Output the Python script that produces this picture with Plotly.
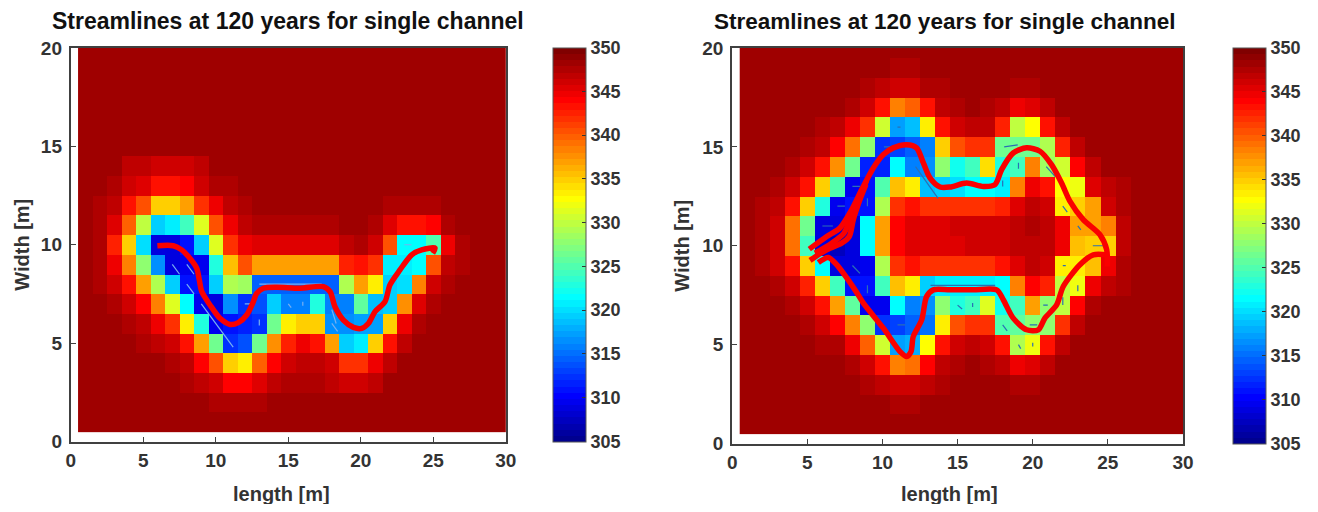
import plotly.graph_objects as go

# the page sets the figure 8 px in from the window's corner
OFF = 8
W, H = 1318 - 2 * OFF, 512 - 2 * OFF
B = 348.6
READ_SHIFT = 0.35  # colour readings sit half a colormap step above the bin
TITLE = "Streamlines at 120 years for single channel"
XTICKS = [0, 5, 10, 15, 20, 25, 30]
YTICKS = [0, 5, 10, 15, 20]
CTICKS = [305, 310, 315, 320, 325, 330, 335, 340, 345, 350]

# each row: y -> (first column, values from that column on); all other cells = B
left_rows = {
 14: (4, [347.5,347.5,346.5,346.5,346.5,347.5]),
 13: (3, [347.8,346.8,345.8,343.5,343.5,344.3,346.5,347.8,347.8]),
 12: (2, [348,347.3,344,341,335,335,337,342.5,345,347.5,347.8]+[B]*9+[348,348,348,348]),
 11: (2, [348,345.5,340,330,320,321,325,332,341,345,347.5,348,348,348,348,348,348,348.5,B,348,346,343.5,343.5,344.3,347.6]),
 10: (2, [347.6,343,335,320.5,309,309,311,320,332,342,345.3,345.5,345.5,345.5,345.5,345.5,346,347.5,348,346.8,341,322,322,325.5,345,347.8]),
 9: (2, [347.6,345.3,339,328.5,317,309,310,310,323,336,341,337.5,337.5,337.5,337.5,337.5,337.5,343,344,342.5,321,321,322,341,347.5,348]),
 8: (2, [348,346.8,343.5,337.5,329.5,320,311,311,319.5,329.5,329,315,315,315,315,315,315,329.5,337,334,320,320.5,339,346.5,348]),
 7: (3, [348,346.8,344.3,339,332,322,310,309,317,313,314,320,316,316,323,316,316.5,326,319,320,338,345.8,347.8]),
 6: (4, [348,347.5,345,342,334,323.5,310,311,312,312.5,327,334,335.5,335,317,317,317.5,318,335,345,347.6]),
 5: (5, [348,347.5,346.5,343.5,337,327,313,314,327,338,343,345,344,337,320,321,335.5,344,347]),
 4: (7, [348,347,344.3,341,335,333.5,340,344.3,346.5,347,347.5,346.5,342.5,342.5,345.3,347.5]),
 3: (8, [347.8,347.3,346.3,344.2,344.2,345.8,347.3,347.8,348,348,347.5,346.8,346.8,347.3]),
 2: (10, [347.9,347.9,347.9,347.9]),
}
right_rows = {
 19: (11, [348.2,348.2]),
 18: (9, [347.7,347.3,346.3,346.3,347.6,348,B,B,B,B,347.9,347.9]),
 17: (8, [348,346.5,344,338.5,340,344,347.3,347.8,348.4,347.8,347.2,345.4,346,347.4]),
 16: (6, [347.8,347.4,345.3,342,331,318,319,333.5,343.5,346.5,347.2,347.2,343,330,333,344,347.3]),
 15: (5, [348,347.4,344.3,339.5,328,312.5,313.5,315,316,335,341,342.5,342.5,327,326.5,327,329.5,343,347.5]),
 14: (4, [348,346.8,343.5,338,327,312,312,322,316.5,317,328.5,322.5,325,334.5,323.5,325,338.5,329,331,344.3,347.5]),
 13: (3, [347.7,346.5,343.5,335.5,325.5,310,311,325.5,336,334,319,320,320.5,322,322,321,338.5,345,343.5,333,332.5,345.8,347.5,348]),
 12: (2, [348,347.5,343.5,335.5,323,310,311,311.5,329.5,342,344,342,342,342,342,342,343,346,347,346.2,334,335,337,346.5,347.8]),
 11: (2, [348,346.2,339.5,326.5,309,309,309.5,322,337,344.5,346,346,346,346.4,346.4,346.4,346.4,347,347.6,347.4,345.2,337.5,337.5,338.5,347.2]),
 10: (2, [348,346.2,339.5,325,309.5,308,309.5,322,337,344.5,346,346,346,346,346.6,346.6,346.6,347.2,347.2,347.2,345.2,336,335.5,335.5,347.2]),
 9: (2, [348,346.8,343.5,335,322,309.5,309,310,329.5,342,344,342,342,342,342,342.5,343.5,346,347.4,346.5,333.5,334,336,345,347.7]),
 8: (3, [347.6,346.5,343,335,325,311,311,325,336,333.5,320,321.5,321.5,321.5,321.5,322,338.5,344.3,343,330,332.5,345,347.5,348]),
 7: (4, [348,346.8,343.5,337.5,326,310,310,322,316.5,317,328.5,323,325,332,322.5,325,337.5,328.5,330.5,344.3,347.6]),
 6: (5, [347.8,346.8,344.3,338.5,328,312.5,313.5,315,315.5,334,341,342.5,342.5,325.5,326,328,328.5,342.5,347.2]),
 5: (6, [348,347.6,345.2,340,331,318,318.5,333,343.5,346.8,347.3,346.8,343.5,329.5,332.5,343.5,347.3]),
 4: (8, [348,346.8,343.5,338.5,339.5,344.3,347.5,348,348.3,347.8,347.3,345.4,346,347.5]),
 3: (9, [347.7,347.5,346.7,346.7,347.5,347.7,B,B,B,B,348.1,348.1]),
 2: (11, [348.2,348.2]),
}

# streamlines, data units (length, width)
left_line_x = [5.97,7.07,7.65,8.11,8.68,8.86,9.03,9.60,10.29,10.98,11.55,12.13,12.54,12.82,13.28,14.20,15.81,17.42,17.88,18.22,18.80,19.49,20.06,20.52,20.98,21.67,22.01,22.70,23.51,24.20,25.12,24.96]
left_line_y = [9.95,9.95,9.74,9.40,8.81,8.22,7.62,6.94,6.26,5.95,6.04,6.43,7.02,7.53,7.79,7.84,7.79,7.87,7.62,6.85,6.17,5.80,5.75,6.00,6.60,7.11,7.96,8.72,9.49,9.74,9.83,9.57]

upper_x = [5.13,6.29,7.17,7.95,8.62,9.39,10.06,10.72,11.61,12.27,12.72,13.16,13.83,14.49,15.60,16.71,17.49,17.93,18.70,19.59,20.48,21.25,21.92,22.48,23.36,24.47,24.92,24.96]
upper_y = [9.83,10.47,10.90,11.82,12.84,13.93,14.61,14.95,15.11,14.95,14.19,13.43,12.97,12.97,13.17,13.00,13.09,13.85,14.69,14.95,14.78,14.10,13.17,12.24,11.32,10.56,9.80,8.95]
fan2_x = [5.51,6.62,7.44,7.84,8.50,8.95]
fan2_y = [9.63,10.13,10.64,11.32,12.50,13.30]
fan3_x = [5.18,6.29,7.28,7.79,8.06,8.50,8.90]
fan3_y = [9.26,9.80,10.13,10.47,11.32,12.33,13.10]
lower_x = [5.73,6.39,6.95,8.17,8.73,10.06,11.17,11.61,11.90,12.05,12.61,12.94,13.38,14.49,16.04,17.60,18.04,18.70,19.59,20.37,20.81,21.59,22.03,23.14,24.03,24.92]
lower_y = [9.15,9.41,9.04,7.77,7.10,5.83,4.65,4.40,4.65,5.41,6.25,7.44,7.77,7.77,7.77,7.77,7.27,6.34,5.75,5.75,6.34,7.01,7.94,9.04,9.54,9.54]

# small quiver segments
left_q_x = [7,7.5,None,8,8.5,None,8,8.5,None,9,11.2,None,13,17.3,None,12,12.5,None,15,15.2,None,16,16,None,18,18.3,None,18,18.4,None,23,23.5,None,13,13]
left_q_y = [9,8.5,None,9,8.5,None,8,7.5,None,7,4.8,None,8,8,None,7,7,None,7,6.8,None,7.1,6.9,None,6.7,6,None,6,5.6,None,10,10,None,6.2,5.9]
right_q_x = [20.9,21.5,None,22,22.3,None,23,23.2,None,24,24.7,None,22,22.2,None,23,23,None,19.05,19.05,None,18,18,None,18.1,19,None,19.8,20.3,None,18,18.3,None,19.05,19.2,None,20,20,None,21,20.7,None,22,22,None,15,15.3,None,16,16,None,13.2,17.5,None,11,11.5,None,8,8.5,None,9,9,None,12.2,13.7,None,6,6.7,None,7,7.5,None,8,8.5,None,9,9,None,10.1,10.5,None,11,11.2]
right_q_y = [14,13.5,None,12,11.7,None,11,10.8,None,10,10,None,9,9,None,8,7.7,None,14.2,13.9,None,13.3,13,None,15,15.1,None,6,6,None,6,5.7,None,5,4.8,None,5.1,4.9,None,7,7,None,7.4,7,None,7,6.8,None,7.1,6.9,None,8,8,None,6,6,None,9,8.6,None,8,7.6,None,14,12.4,None,11,11,None,12,12,None,13,13,None,12.4,12,None,15,15,None,16,16]


def grid(rows):
    z = [[B - READ_SHIFT] * 30 for _ in range(20)]
    for y, (c, vals) in rows.items():
        for i, v in enumerate(vals):
            if c - 1 + i < 30:
                z[y - 1][c - 1 + i] = v - READ_SHIFT
    return z


def jet(t):
    def f(a):
        return max(0.0, min(1.0, 1.5 - abs(4 * t - a)))
    return f"rgb({round(f(3)*255)},{round(f(2)*255)},{round(f(1)*255)})"


def fx(px):
    return (px - OFF) / W


def fy(px):
    return 1 - (px - OFF) / H


N = 64
cscale = []
for i in range(N):
    col = jet((i + 1) / N)
    cscale += [[i / N, col], [(i + 1) / N, col]]

TXT = "#333333"
FONT = "Liberation Sans"
fig = go.Figure()
panels = [
    dict(l=70.8, r=505.8, t=48, b=441.5, cb=553, rows=left_rows, ax="", tx=288, ts=23, ly=22, lx=281),
    dict(l=732.2, r=1183, t=48, b=443.5, cb=1233, rows=right_rows, ax="2", tx=944, ts=22.5, ly=682, lx=949),
]
xs = list(range(1, 31))
ys = list(range(1, 21))
for p in panels:
    top, bot = fy(p["t"]), fy(p["b"])
    fig.add_trace(go.Heatmap(
        x=xs, y=ys, z=grid(p["rows"]), zmin=305, zmax=350, colorscale=cscale,
        xaxis="x" + p["ax"], yaxis="y" + p["ax"], hoverinfo="skip",
        colorbar=dict(
            x=fx(p["cb"]), xanchor="left", xref="paper", y=bot, yanchor="bottom", yref="paper",
            len=top - bot, lenmode="fraction", thickness=33, thicknessmode="pixels", xpad=0, ypad=0,
            tickvals=CTICKS, ticks="inside", ticklen=4, tickcolor="#333333", outlinecolor="#555555",
            outlinewidth=1, tickfont=dict(family=FONT, size=18, color=TXT, weight="bold"),
        ),
    ))
    axis = dict(
        showgrid=False, zeroline=False, showline=True, linecolor="#404040", linewidth=2,
        mirror=True, ticks="inside", ticklen=5, tickcolor="#404040", tickwidth=1,
        tickfont=dict(family=FONT, size=19, color=TXT, weight="bold"),
    )
    n = p["ax"]
    fig.update_layout({
        "xaxis" + n: dict(axis, domain=[fx(p["l"]), fx(p["r"])], range=[0, 30], tickvals=XTICKS,
                          anchor="y" + n, ticklabelstandoff=1),
        "yaxis" + n: dict(axis, domain=[bot, top], range=[0, 20], tickvals=YTICKS,
                          anchor="x" + n, ticklabelstandoff=3),
    })
    fig.add_annotation(x=fx(p["tx"]), y=fy(21), xref="paper", yref="paper", showarrow=False,
                       xanchor="center", yanchor="middle",
                       text=f"<b>{TITLE}</b>", font=dict(family=FONT, size=p["ts"], color="#111111"))
    fig.add_annotation(x=fx(p["lx"]), y=fy(494), xref="paper", yref="paper", showarrow=False,
                       xanchor="center", yanchor="middle",
                       text="<b>length [m]</b>", font=dict(family=FONT, size=20, color=TXT))
    fig.add_annotation(x=fx(p["ly"]), y=(top + bot) / 2, xref="paper", yref="paper", showarrow=False,
                       xanchor="center", yanchor="middle", textangle=-90,
                       text="<b>Width [m]</b>", font=dict(family=FONT, size=20, color=TXT))


def add_line(x, y, ax, color="#fa0000", width=5.5, smooth=True):
    fig.add_trace(go.Scatter(
        x=x, y=y, mode="lines", xaxis="x" + ax, yaxis="y" + ax, hoverinfo="skip", showlegend=False,
        line=dict(color=color, width=width, shape="spline" if smooth else "linear", smoothing=0.8),
        connectgaps=False))


add_line(left_q_x, left_q_y, "", "#78b0f0", 1.2, False)
add_line(right_q_x, right_q_y, "2", "#2a6fb5", 1.2, False)
add_line(left_line_x, left_line_y, "")
for lx, ly in [(upper_x, upper_y), (fan2_x, fan2_y), (fan3_x, fan3_y), (lower_x, lower_y)]:
    add_line(lx, ly, "2")

fig.update_layout(width=W, height=H, margin=dict(l=0, r=0, t=0, b=0, autoexpand=False),
                  paper_bgcolor="white", plot_bgcolor="white", showlegend=False)
fig.write_html("out.html")
